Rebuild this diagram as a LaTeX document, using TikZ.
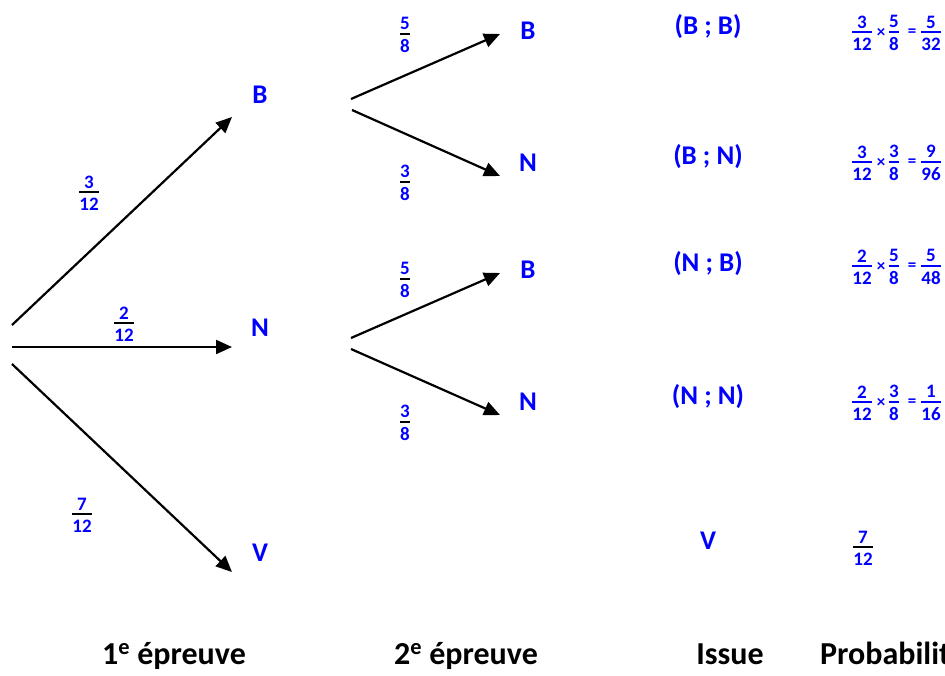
\documentclass[tikz,border=0pt]{standalone}
\usepackage{fontspec}
\setmainfont{Carlito}
\usetikzlibrary{arrows.meta}
\newlength\frw
\newsavebox\frnum
\newsavebox\frden
\newcommand\fr[3][black]{%
  \sbox\frnum{#2}\sbox\frden{#3}%
  \frw=\wd\frnum \ifdim\wd\frden>\frw \frw=\wd\frden \fi
  \vbox{\offinterlineskip\halign{\hfil##\hfil\cr
    \usebox\frnum\cr\noalign{\kern3pt}%
    \textcolor{#1}{\rule{\frw}{2pt}}\cr\noalign{\kern4.5pt}%
    \usebox\frden\cr}}}
\begin{document}
\begin{tikzpicture}[x=1pt,y=-1pt,
  lbl/.style={text=blue,font=\bfseries\fontsize{27}{30}\selectfont,inner sep=0pt},
  frc/.style={text=blue,font=\bfseries\fontsize{19}{21}\selectfont,inner sep=0pt},
  op/.style={text=blue,font=\bfseries\fontsize{17}{19}\selectfont,inner sep=0pt},
  foot/.style={font=\bfseries\fontsize{32}{36}\selectfont,inner sep=0pt,anchor=base},
  arr/.style={line width=2.2pt,-{Triangle[length=16pt,width=14pt]}}]
\useasboundingbox (0,0) rectangle (945,675);

% start and end points of the connectors
\coordinate (r1) at (12,325);
\coordinate (r2) at (12,347);
\coordinate (r3) at (12,364);
\coordinate (t1) at (232,117);
\coordinate (t2) at (232,347);
\coordinate (t3) at (232,572);
\coordinate (sb1) at (351,99);
\coordinate (sb2) at (352,110);
\coordinate (tbb) at (500,34);
\coordinate (tbn) at (500,176);
\coordinate (sn1) at (351,338);
\coordinate (sn2) at (351,349);
\coordinate (tnb) at (500,273);
\coordinate (tnn) at (500,415);

% first level
\draw[arr] (r1) -- (t1);
\draw[arr] (r2) -- (t2);
\draw[arr] (r3) -- (t3);
\node[lbl] (B1) at (260,95) {B};
\node[lbl] (N1) at (260,328) {N};
\node[lbl] (V1) at (260,553) {V};
\node[frc] (f1) at (89,193) {\fr{3}{12}};
\node[frc] (f2) at (124,324) {\fr{2}{12}};
\node[frc] (f3) at (82,515) {\fr{7}{12}};

% second level
\draw[arr] (sb1) -- (tbb);
\draw[arr] (sb2) -- (tbn);
\draw[arr] (sn1) -- (tnb);
\draw[arr] (sn2) -- (tnn);
\node[lbl] (BB) at (528,31) {B};
\node[lbl] (BN) at (528,163) {N};
\node[lbl] (NB) at (528,270) {B};
\node[lbl] (NN) at (528,402) {N};
\node[frc] (g1) at (405,35) {\fr{5}{8}};
\node[frc] (g2) at (405,183) {\fr{3}{8}};
\node[frc] (g3) at (405,280) {\fr{5}{8}};
\node[frc] (g4) at (405,423) {\fr{3}{8}};

% issues
\node[lbl] (i1) at (708,27) {(B ; B)};
\node[lbl] (i2) at (708,157) {(B ; N)};
\node[lbl] (i3) at (708,264) {(N ; B)};
\node[lbl] (i4) at (708,397) {(N ; N)};
\node[lbl] (i5) at (708,541) {V};

% probabilities
\node[frc] (p1a) at (862,33) {\fr[blue]{3}{12}};
\node[op]  (p1x) at (881,33) {×};
\node[frc] (p1b) at (894,33) {\fr[blue]{5}{8}};
\node[op]  (p1e) at (912,33) {=};
\node[frc] (p1c) at (931,33) {\fr[blue]{5}{32}};

\node[frc] (p2a) at (862,163) {\fr[blue]{3}{12}};
\node[op]  (p2x) at (881,163) {×};
\node[frc] (p2b) at (894,163) {\fr[blue]{3}{8}};
\node[op]  (p2e) at (912,163) {=};
\node[frc] (p2c) at (931,163) {\fr[blue]{9}{96}};

\node[frc] (p3a) at (862,267) {\fr[blue]{2}{12}};
\node[op]  (p3x) at (881,267) {×};
\node[frc] (p3b) at (894,267) {\fr[blue]{5}{8}};
\node[op]  (p3e) at (912,267) {=};
\node[frc] (p3c) at (931,267) {\fr[blue]{5}{48}};

\node[frc] (p4a) at (862,403) {\fr[blue]{2}{12}};
\node[op]  (p4x) at (881,403) {×};
\node[frc] (p4b) at (894,403) {\fr[blue]{3}{8}};
\node[op]  (p4e) at (912,403) {=};
\node[frc] (p4c) at (931,403) {\fr[blue]{1}{16}};

\node[frc] (p5) at (863,548) {\fr{7}{12}};

% footer
\node[foot] (h1) at (174,664) {1\textsuperscript{e} épreuve};
\node[foot] (h2) at (466,664) {2\textsuperscript{e} épreuve};
\node[foot] (h3) at (730,664) {Issue};
\node[foot,anchor=base west] (h4) at (820,664) {Probabilité};
\end{tikzpicture}
\end{document}
